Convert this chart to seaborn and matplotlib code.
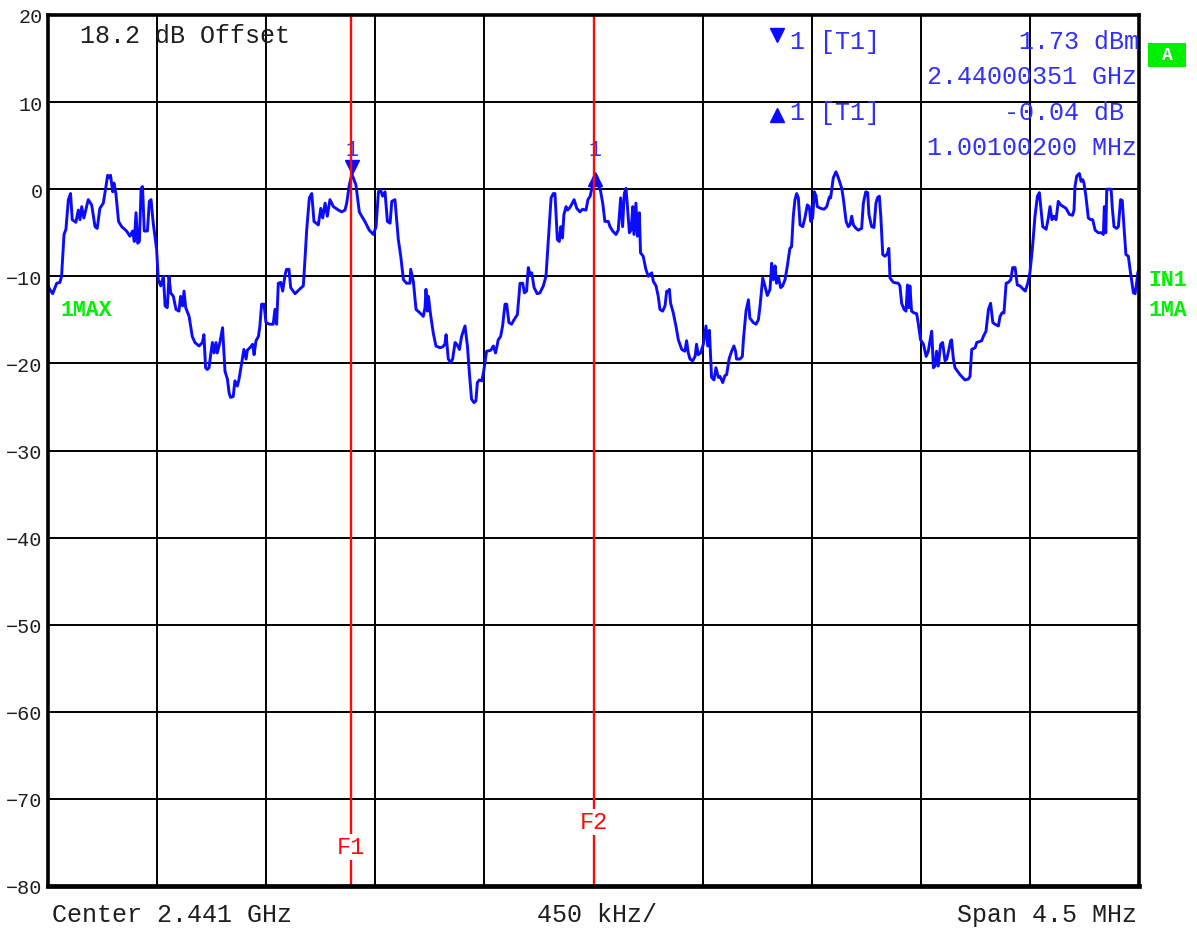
import matplotlib
matplotlib.use("Agg")
import matplotlib.pyplot as plt
import matplotlib.transforms as mtransforms
from matplotlib.patches import Rectangle
import numpy as np
import pandas as pd
import seaborn as sns

# ---- analyzer settings ----
CENTER_MHZ = 2441.0
SPAN_MHZ = 4.5
DIV_KHZ = 450
REF_LEVEL_DBM = 20
BOTTOM_LEVEL_DBM = -80
LEVEL_TICKS = [20, 10, 0, -10, -20, -30, -40, -50, -60, -70, -80]
OFFSET_DB = 18.2

# ---- trace 1 (max hold), frequency relative to center in MHz ----
freq_offset_mhz = [
    -2.249, -2.231, -2.214, -2.201, -2.194, -2.184, -2.176, -2.166, -2.157, -2.150,
    -2.135, -2.125, -2.118, -2.111, -2.102, -2.084, -2.070, -2.056, -2.047, -2.036,
    -2.022, -2.011, -2.004, -1.997, -1.992, -1.983, -1.978, -1.970, -1.959, -1.946,
    -1.926, -1.912, -1.901, -1.894, -1.887, -1.880, -1.873, -1.866, -1.860, -1.853,
    -1.840, -1.832, -1.825, -1.816, -1.802, -1.795, -1.785, -1.774, -1.767, -1.758,
    -1.751, -1.744, -1.733, -1.722, -1.710, -1.703, -1.695, -1.689, -1.682, -1.668,
    -1.655, -1.644, -1.627, -1.613, -1.607, -1.600, -1.593, -1.586, -1.579, -1.572,
    -1.565, -1.557, -1.552, -1.541, -1.530, -1.520, -1.510, -1.503, -1.497, -1.486,
    -1.479, -1.469, -1.462, -1.451, -1.442, -1.433, -1.428, -1.414, -1.406, -1.400,
    -1.392, -1.382, -1.376, -1.369, -1.359, -1.351, -1.337, -1.321, -1.314, -1.307,
    -1.300, -1.290, -1.282, -1.272, -1.266, -1.256, -1.249, -1.231, -1.213, -1.197,
    -1.193, -1.183, -1.172, -1.162, -1.153, -1.135, -1.125, -1.117, -1.107, -1.098,
    -1.087, -1.073, -1.052, -1.039, -1.025, -1.018, -1.007, -0.9965, -0.980, -0.966,
    -0.956, -0.943, -0.925, -0.908, -0.897, -0.887, -0.878, -0.870, -0.860, -0.850,
    -0.839, -0.832, -0.819, -0.805, -0.795, -0.784, -0.771, -0.757, -0.754, -0.743,
    -0.732, -0.716, -0.702, -0.695, -0.691, -0.685, -0.681, -0.672, -0.661, -0.650,
    -0.633, -0.622, -0.613, -0.608, -0.599, -0.589, -0.581, -0.571, -0.564, -0.553,
    -0.544, -0.530, -0.520, -0.512, -0.503, -0.493, -0.485, -0.479, -0.471, -0.461,
    -0.454, -0.441, -0.424, -0.413, -0.404, -0.393, -0.383, -0.375, -0.365, -0.358,
    -0.349, -0.338, -0.328, -0.314, -0.303, -0.292, -0.285, -0.276, -0.269, -0.262,
    -0.255, -0.245, -0.232, -0.221, -0.207, -0.196, -0.186, -0.175, -0.166, -0.159,
    -0.149, -0.141, -0.135, -0.128, -0.122, -0.113, -0.107, -0.097, -0.080, -0.069,
    -0.056, -0.045, -0.031, -0.023, -0.014, -0.003, 0.0045, 0.013, 0.020, 0.027,
    0.038, 0.047, 0.061, 0.068, 0.079, 0.093, 0.102, 0.112, 0.120, 0.127,
    0.134, 0.139, 0.148, 0.155, 0.162, 0.167, 0.175, 0.181, 0.189, 0.194,
    0.205, 0.216, 0.226, 0.240, 0.247, 0.258, 0.267, 0.274, 0.285, 0.295,
    0.302, 0.309, 0.313, 0.318, 0.329, 0.340, 0.350, 0.364, 0.377, 0.384,
    0.391, 0.398, 0.409, 0.419, 0.425, 0.432, 0.442, 0.453, 0.464, 0.471,
    0.478, 0.487, 0.497, 0.505, 0.515, 0.522, 0.533, 0.542, 0.549, 0.560,
    0.570, 0.579, 0.586, 0.590, 0.604, 0.614, 0.618, 0.629, 0.639, 0.645,
    0.659, 0.670, 0.680, 0.687, 0.698, 0.707, 0.717, 0.728, 0.735, 0.742,
    0.749, 0.755, 0.762, 0.772, 0.780, 0.790, 0.799, 0.810, 0.817, 0.824,
    0.831, 0.838, 0.845, 0.852, 0.863, 0.872, 0.882, 0.890, 0.896, 0.904,
    0.911, 0.918, 0.923, 0.937, 0.951, 0.962, 0.973,
    0.978, 0.989, 1.000, 1.010, 1.024, 1.031, 1.042, 1.051, 1.058, 1.065,
    1.072, 1.083, 1.092, 1.106, 1.113, 1.123, 1.131, 1.136, 1.147, 1.157,
    1.165, 1.171, 1.179, 1.185, 1.193, 1.202, 1.212, 1.218, 1.223, 1.237,
    1.257, 1.264, 1.271, 1.281, 1.289, 1.295, 1.301, 1.305, 1.312, 1.322,
    1.333, 1.340, 1.349, 1.361, 1.372, 1.381, 1.388, 1.395, 1.402, 1.409,
    1.415, 1.422, 1.432, 1.440, 1.450, 1.457, 1.466, 1.473, 1.477, 1.484,
    1.491, 1.512, 1.532, 1.546, 1.553, 1.560, 1.574, 1.581, 1.601, 1.608,
    1.619, 1.629, 1.638, 1.647, 1.656, 1.670, 1.677, 1.685, 1.693, 1.702,
    1.711, 1.721, 1.729, 1.739, 1.748, 1.759, 1.773, 1.781, 1.791, 1.800,
    1.810, 1.821, 1.831, 1.839, 1.844, 1.853, 1.867, 1.876, 1.883, 1.891,
    1.899, 1.908, 1.917, 1.927, 1.938, 1.949, 1.963, 1.976, 1.982, 1.986,
    1.993, 2.004, 2.011, 2.018, 2.023, 2.031, 2.041, 2.051, 2.059, 2.069,
    2.082, 2.096, 2.103, 2.107, 2.113, 2.117, 2.135, 2.140, 2.147, 2.158,
    2.165, 2.174, 2.181, 2.188, 2.196, 2.206, 2.213, 2.223, 2.227, 2.234,
    2.240, 2.245, 2.250,
]

level_dbm = [
    -11.2, -12.0, -10.8, -10.7, -10.0, -5.2, -4.6, -1.2, -0.5, -3.5,
    -3.8, -2.4, -3.5, -2.0, -3.3, -1.2, -1.8, -4.3, -4.5, -2.2,
    -1.6, 0.3, 1.6, 1.3, 1.6, -0.3, 0.7, -0.5, -3.7, -4.3,
    -4.8, -5.4, -4.8, -6.0, -2.7, -6.2, -6.0, 0.1, 0.3, -4.8,
    -4.8, -1.4, -1.2, -3.9, -6.9, -10.4, -11.1, -10.0, -13.4, -13.6,
    -10.0, -11.9, -12.3, -13.8, -14.0, -12.3, -13.4, -11.7, -13.6, -14.6,
    -16.9, -17.6, -18.0, -17.6, -16.7, -20.5, -20.7, -20.5, -19.0, -17.6,
    -18.8, -17.6, -18.8, -17.6, -15.9, -20.9, -21.8, -23.4, -23.9, -23.8,
    -22.0, -22.6, -21.8, -19.9, -18.4, -19.5, -18.5, -18.1, -17.8, -19.0,
    -17.4, -16.9, -15.7, -13.2, -13.2, -15.3, -15.5, -15.5, -13.8, -15.5,
    -10.8, -10.7, -11.7, -9.8, -9.2, -9.2, -11.3, -12.0, -11.5, -11.1,
    -9.4, -4.7, -1.0, -0.5, -3.7, -4.1, -2.2, -3.3, -1.6, -3.1,
    -1.2, -2.0, -2.4, -2.6, -2.4, -1.6, 0.5, 1.73, 0.5, -2.6,
    -3.1, -3.7, -4.7, -5.2, -4.3, -0.3, -0.1, -0.8, -0.3, -3.7,
    -3.9, -1.4, -1.2, -5.8, -7.7, -10.4, -10.8, -10.8, -9.2, -10.6,
    -13.8, -14.2, -14.6, -13.6, -11.5, -14.0, -12.3, -14.4, -16.5, -18.0,
    -18.2, -18.1, -17.8, -16.7, -19.5, -19.9, -19.5, -17.6, -17.8, -18.4,
    -16.9, -15.7, -18.0, -21.1, -24.1, -24.5, -24.3, -22.2, -21.9, -22.0,
    -21.1, -18.6, -18.5, -18.0, -18.8, -17.3, -16.9, -15.7, -13.2, -13.2,
    -15.3, -15.5, -15.0, -14.4, -10.8, -10.8, -11.9, -11.7, -9.0, -9.8,
    -9.6, -11.3, -12.0, -11.9, -11.1, -10.0, -5.8, -1.0, -0.5, -0.5,
    -5.8, -6.0, -4.3, -5.6, -2.9, -2.0, -2.4, -2.1, -1.2, -2.2,
    -2.6, -2.3, -2.4, -1.2, -0.8, 0.5, 1.69, 1.5, 0.4, 0.1,
    -1.6, -3.7, -3.7, -4.3, -4.8, -5.2, -4.7, -1.0, -4.3, -0.5,
    0.1, -1.6, -5.0, -4.7, -2.0, -5.2, -1.6, -5.4, -2.7, -7.3,
    -7.7, -9.2, -10.0, -9.6, -10.6, -11.1, -12.3, -13.8, -14.0, -13.4,
    -11.7, -11.7, -11.5, -13.1, -14.2, -15.7, -17.3, -18.4, -18.6, -17.4,
    -18.8, -19.5, -19.7, -19.2, -17.8, -19.0, -18.8, -17.8, -15.7, -18.0,
    -16.2, -21.6, -21.9, -20.5, -21.6, -21.5, -22.2, -21.4, -21.3, -19.4,
    -18.6, -18.0, -18.6, -19.5, -19.5, -19.2, -17.4, -14.0, -12.7, -14.8,
    -15.3, -15.5, -15.0, -13.4, -10.2, -11.1, -12.2, -11.5, -8.5, -10.4,
    -8.8, -10.8, -10.0, -11.3, -11.1, -10.4, -8.9, -6.8, -6.6, -3.1,
    -1.2, -0.5, -1.0, -4.1, -4.3, -3.3, -1.8, -2.0, -3.7, -3.3,
    -0.3, -0.8, -2.0, -2.2, -2.3, -2.0, -0.9,
    -1.0, 1.3, 2.0, 1.3, 0.1, -1.2, -3.7, -4.3, -4.1, -3.1,
    -4.1, -4.5, -4.7, -4.5, -1.6, -0.3, -0.4, -2.9, -4.3, -4.4,
    -1.6, -1.0, -0.8, -3.1, -7.5, -7.7, -7.4, -6.8, -10.2, -10.7,
    -10.8, -11.1, -13.1, -13.8, -14.0, -11.0, -13.6, -11.1, -14.0, -14.2,
    -14.3, -15.5, -17.3, -17.8, -19.2, -18.6, -17.4, -16.3, -20.5, -20.3,
    -18.6, -20.3, -17.8, -17.6, -19.7, -19.5, -18.4, -17.4, -17.3, -19.4,
    -20.5, -21.3, -21.9, -21.8, -21.5, -18.4, -18.2, -17.6, -17.4, -16.9,
    -16.3, -13.8, -13.1, -15.3, -15.5, -15.7, -14.6, -14.2, -14.2, -10.8,
    -10.7, -10.4, -9.0, -9.0, -11.0, -11.1, -11.5, -11.7, -10.8, -9.6,
    -6.9, -3.1, -0.8, -0.4, -1.8, -4.3, -4.6, -3.3, -2.0, -3.5,
    -3.1, -3.5, -1.4, -1.8, -2.0, -2.2, -2.9, -3.0, -2.4, 0.3,
    1.5, 1.8, 0.9, 1.1, 0.7, -0.8, -3.3, -3.5, -3.5, -4.7,
    -5.0, -5.0, -5.2, -2.0, -5.0, 0.0, 0.0, -2.2, -4.3, -4.5,
    -4.3, -1.2, -1.3, -4.3, -7.5, -7.7, -9.2, -11.1, -11.9, -12.0,
    -10.8, -9.6, -9.2,
]

# ---- markers and frequency lines ----
marker1_freq_ghz = 2.44000351
marker1_level_dbm = 1.73
delta1_level_db = -0.04
delta1_freq_mhz = 1.00100200
freq_lines_mhz = {"F1": 2440.0, "F2": 2441.0}

# ---- colours ----
TRACE_BLUE = "#0b0bff"
INFO_BLUE = "#2f2fff"
LINE_RED = "#ff0a0a"
LABEL_GREEN = "#00f000"
TEXT_DARK = "#1e1e1e"

W, H = 1197, 929

sns.set_theme(style="white")
plt.rcParams["font.family"] = ["Liberation Mono", "DejaVu Sans Mono"]
plt.rcParams["axes.unicode_minus"] = True

fig = plt.figure(figsize=(W / 100, H / 100), dpi=100)
fig.patch.set_facecolor("white")

left_px, right_px, top_px, bottom_px = 48, 1139, 16, 887
ax = fig.add_axes([left_px / W, 1 - bottom_px / H,
                   (right_px - left_px) / W, (bottom_px - top_px) / H])
ax.set_facecolor("white")


def fig_text(x, y, s, **kw):
    """Place text at a pixel location of the canvas (origin top-left)."""
    return fig.text(x / W, 1 - y / H, s, **kw)


trace = pd.DataFrame({
    "freq_mhz": [CENTER_MHZ + f for f in freq_offset_mhz],
    "level_dbm": level_dbm,
})

start_mhz = CENTER_MHZ - SPAN_MHZ / 2
stop_mhz = CENTER_MHZ + SPAN_MHZ / 2

sns.lineplot(data=trace, x="freq_mhz", y="level_dbm", sort=False,
             estimator=None, color=TRACE_BLUE, linewidth=2.1, ax=ax, zorder=4)

# frequency display lines, drawn over the trace
for name, f in freq_lines_mhz.items():
    ax.axvline(f, color=LINE_RED, linewidth=1.7, zorder=6.5)

ax.set_xlim(start_mhz, stop_mhz)
ax.set_ylim(BOTTOM_LEVEL_DBM, REF_LEVEL_DBM)
div_mhz = DIV_KHZ / 1000.0
ax.set_xticks([start_mhz + i * div_mhz for i in range(11)])
ax.set_xticklabels([])
ax.set_yticks(LEVEL_TICKS)
ax.set_yticklabels([str(v).replace("-", "\u2212") for v in LEVEL_TICKS],
                   fontsize=14.5, color=TEXT_DARK)
ax.tick_params(axis="x", length=0)
ax.tick_params(axis="y", length=3, width=1, color="black", pad=1)
ax.set_xlabel("")
ax.set_ylabel("")
ax.grid(True, color="black", linewidth=1.4, zorder=1)
ax.set_axisbelow(True)
for side, sp in ax.spines.items():
    sp.set_visible(True)
    sp.set_color("black")
    sp.set_linewidth(2.6 if side != "bottom" else 3.4)
    sp.set_zorder(7)

# frequency line labels, blanking the line behind the text
xaxis_blend = mtransforms.blended_transform_factory(ax.transData, ax.transAxes)
label_y = {"F1": (bottom_px - 848) / (bottom_px - top_px),
           "F2": (bottom_px - 823) / (bottom_px - top_px)}
for name, f in freq_lines_mhz.items():
    ax.text(f, label_y[name], name, transform=xaxis_blend, ha="center",
            va="center", fontsize=17, color=LINE_RED, zorder=7,
            bbox=dict(facecolor="white", edgecolor="none", pad=1.0))

# marker 1 and delta marker 1 on the trace
m1_x = marker1_freq_ghz * 1000.0
d1_x = m1_x + delta1_freq_mhz
d1_level = marker1_level_dbm + delta1_level_db
down_tr = mtransforms.offset_copy(ax.transData, fig=fig, y=5, units="points")
up_tr = mtransforms.offset_copy(ax.transData, fig=fig, y=-3.5, units="points")
ax.plot([m1_x], [marker1_level_dbm], marker="v", markersize=10.5,
        color=TRACE_BLUE, linestyle="none", transform=down_tr, zorder=6)
ax.plot([d1_x], [d1_level], marker="^", markersize=10.5,
        color=TRACE_BLUE, linestyle="none", transform=up_tr, zorder=6)
for x, y in [(m1_x, marker1_level_dbm), (d1_x, d1_level)]:
    ax.annotate("1", xy=(x, y), xytext=(0, 18), textcoords="offset points",
                ha="center", va="center", fontsize=15.5, color=INFO_BLUE,
                zorder=6)

# marker readout block
ax.plot([(777 - left_px) / (right_px - left_px)],
        [(bottom_px - 36) / (bottom_px - top_px)], marker="v", markersize=10,
        color=TRACE_BLUE, transform=ax.transAxes, clip_on=False, zorder=7)
ax.plot([(777 - left_px) / (right_px - left_px)],
        [(bottom_px - 116) / (bottom_px - top_px)], marker="^", markersize=10,
        color=TRACE_BLUE, transform=ax.transAxes, clip_on=False, zorder=7)

info_kw = dict(fontsize=18, color=INFO_BLUE, va="center")
fig_text(790, 42, "1 [T1]", ha="left", **info_kw)
fig_text(1139, 42, f"{marker1_level_dbm:.2f} dBm", ha="right", **info_kw)
fig_text(1137, 77, f"{marker1_freq_ghz:.8f} GHz", ha="right", **info_kw)
fig_text(790, 113, "1 [T1]", ha="left", **info_kw)
fig_text(1124, 113, f"{delta1_level_db:.2f} dB", ha="right", **info_kw)
fig_text(1137, 148, f"{delta1_freq_mhz:.8f} MHz", ha="right", **info_kw)

fig_text(80, 36, f"{OFFSET_DB:.1f} dB Offset", ha="left", va="center",
         fontsize=18, color=TEXT_DARK)

# trace / detector labels
green_kw = dict(fontsize=15.5, fontweight="bold", color=LABEL_GREEN,
                va="center", ha="left")
fig_text(60, 310, "1MAX", **green_kw)
fig_text(1148, 281, "IN1", **green_kw)
fig_text(1148, 310, "1MA", **green_kw)
fig.add_artist(Rectangle((1148 / W, 1 - 68 / H), 38 / W, 24 / H,
                         transform=fig.transFigure, facecolor=LABEL_GREEN,
                         edgecolor="none"))
fig_text(1167, 56, "A", ha="center", va="center", fontsize=13,
         fontweight="bold", color="white")

# frequency axis annotation
axis_kw = dict(fontsize=18, color=TEXT_DARK, va="center")
fig_text(52, 915, f"Center {CENTER_MHZ / 1000:.3f} GHz", ha="left", **axis_kw)
fig_text(597, 915, f"{DIV_KHZ} kHz/", ha="center", **axis_kw)
fig_text(1137, 915, f"Span {SPAN_MHZ:g} MHz", ha="right", **axis_kw)

fig.savefig("out.png", dpi=100, facecolor="white")
